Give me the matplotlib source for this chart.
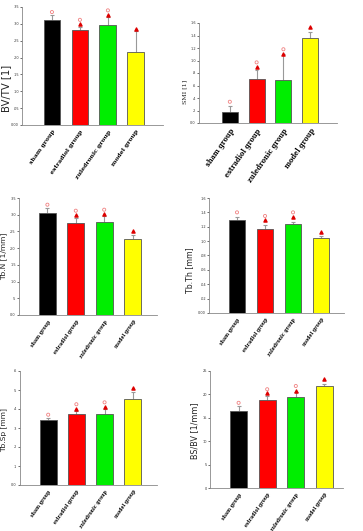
import numpy as np
import matplotlib.pyplot as plt

groups = ["sham group", "estradiol group", "zuledronic group", "model group"]
colors = ["#000000", "#ff0000", "#00ee00", "#ffff00"]

# means, upper error ends, hollow-marker heights, triangle heights (nan = none)
bvtv = [0.311, 0.282, 0.296, 0.218]
bvtv_err = [0.325, 0.290, 0.320, 0.280]
bvtv_o = [0.335, 0.312, 0.340, np.nan]
bvtv_t = [np.nan, 0.300, 0.325, 0.285]

smi = [0.17, 0.70, 0.69, 1.36]
smi_err = [0.28, 0.85, 1.10, 1.45]
smi_o = [0.34, 0.97, 1.18, np.nan]
smi_t = [np.nan, 0.90, 1.10, 1.53]

tbn = [3.06, 2.75, 2.79, 2.26]
tbn_err = [3.20, 2.90, 2.95, 2.40]
tbn_o = [3.30, 3.12, 3.15, np.nan]
tbn_t = [np.nan, 2.98, 3.02, 2.50]

tbth = [0.129, 0.117, 0.124, 0.105]
tbth_err = [0.134, 0.122, 0.127, 0.107]
tbth_o = [0.140, 0.135, 0.140, np.nan]
tbth_t = [np.nan, 0.129, 0.133, 0.112]

tbsp = [0.340, 0.373, 0.375, 0.455]
tbsp_err = [0.355, 0.390, 0.400, 0.490]
tbsp_o = [0.370, 0.425, 0.435, np.nan]
tbsp_t = [np.nan, 0.400, 0.410, 0.510]

bsbv = [16.5, 18.9, 19.5, 21.7]
bsbv_err = [17.5, 19.7, 20.6, 22.3]
bsbv_o = [18.2, 21.1, 21.8, np.nan]
bsbv_t = [np.nan, 20.2, 20.8, 23.2]

bvtv_ticks = [0, .05, .10, .15, .20, .25, .30, .35]
bvtv_lab = ["0.00", ".05", ".10", ".15", ".20", ".25", ".30", ".35"]
smi_ticks = [0, .2, .4, .6, .8, 1.0, 1.2, 1.4, 1.6]
smi_lab = ["0.0", ".2", ".4", ".6", ".8", "1.0", "1.2", "1.4", "1.6"]
tbn_ticks = [0, .5, 1.0, 1.5, 2.0, 2.5, 3.0, 3.5]
tbn_lab = ["0.0", ".5", "1.0", "1.5", "2.0", "2.5", "3.0", "3.5"]
tbth_ticks = [0, .02, .04, .06, .08, .10, .12, .14, .16]
tbth_lab = ["0.00", ".02", ".04", ".06", ".08", ".10", ".12", ".14", ".16"]
tbsp_ticks = [0, .1, .2, .3, .4, .5, .6]
tbsp_lab = ["0.0", ".1", ".2", ".3", ".4", ".5", ".6"]
bsbv_ticks = [0, 5, 10, 15, 20, 25]
bsbv_lab = ["0", "5", "10", "15", "20", "25"]

W, H = 363, 531
fig = plt.figure(figsize=(W / 100, H / 100), dpi=100)


def panel(box, vals, err, o, t, ticks, labs, ylabel, xlim, lab_xy, lab_fs, xfs, yfont="sans-serif"):
    l, r, top, bot = box
    ax = fig.add_axes([l / W, 1 - bot / H, (r - l) / W, (bot - top) / H])
    x = np.arange(len(groups))
    vals = np.array(vals)
    ax.vlines(x, vals, err, color="#999999", lw=0.8, zorder=1)
    ax.hlines(err, x - 0.07, x + 0.07, color="#999999", lw=0.8, zorder=1)
    ax.bar(x, vals, width=0.6, color=colors, edgecolor="#555555", lw=0.6, zorder=2)
    ax.scatter(x, o, marker="o", s=5, facecolors="none", edgecolors="#f08080", lw=0.6, zorder=3)
    ax.scatter(x, t, marker="^", s=5, color="#dd0000", zorder=3)
    ax.set_xlim(*xlim)
    ax.set_ylim(ticks[0], ticks[-1])
    ax.set_yticks(ticks)
    ax.set_yticklabels(labs, fontsize=2.5)
    ax.set_xticks(x)
    ax.set_xticklabels(groups, rotation=55, ha="right", rotation_mode="anchor",
                       fontsize=xfs, family="serif", fontweight="bold")
    ax.tick_params(axis="y", length=1.5, width=0.5, pad=0.8, colors="#333333")
    ax.tick_params(axis="x", length=0, pad=3)
    for s in ["top", "right"]:
        ax.spines[s].set_visible(False)
    for s in ["left", "bottom"]:
        ax.spines[s].set_color("#888888")
        ax.spines[s].set_linewidth(0.6)
    fig.text(lab_xy[0] / W, 1 - lab_xy[1] / H, ylabel, rotation=90, ha="center", va="center",
             fontsize=lab_fs, family=yfont, color="#222222")
    return ax


panel((22, 163, 7, 125), bvtv, bvtv_err, bvtv_o, bvtv_t, bvtv_ticks, bvtv_lab, "BV/TV [1]",
      (-1.07, 3.97), (6, 88), 7.2, 4.4)
panel((199, 337, 23, 123), smi, smi_err, smi_o, smi_t, smi_ticks, smi_lab, "SMI [1]",
      (-1.15, 4.0), (185, 92), 4.5, 4.8, yfont="serif")
panel((19, 157, 198, 315), tbn, tbn_err, tbn_o, tbn_t, tbn_ticks, tbn_lab, "Tb.N [1/mm]",
      (-1.0, 3.86), (4, 256), 5.4, 3.3)
panel((209, 344, 198, 313), tbth, tbth_err, tbth_o, tbth_t, tbth_ticks, tbth_lab, "Tb.Th [mm]",
      (-1.0, 3.82), (190, 270), 5.6, 3.3)
panel((20, 157, 371, 485), tbsp, tbsp_err, tbsp_o, tbsp_t, tbsp_ticks, tbsp_lab, "Tb.Sp [mm]",
      (-1.0, 3.86), (4, 430), 5.4, 3.3)
panel((210, 343, 371, 488), bsbv, bsbv_err, bsbv_o, bsbv_t, bsbv_ticks, bsbv_lab, "BS/BV [1/mm]",
      (-1.0, 3.65), (195, 431), 5.8, 3.3)

fig.savefig("out.png", dpi=100)
